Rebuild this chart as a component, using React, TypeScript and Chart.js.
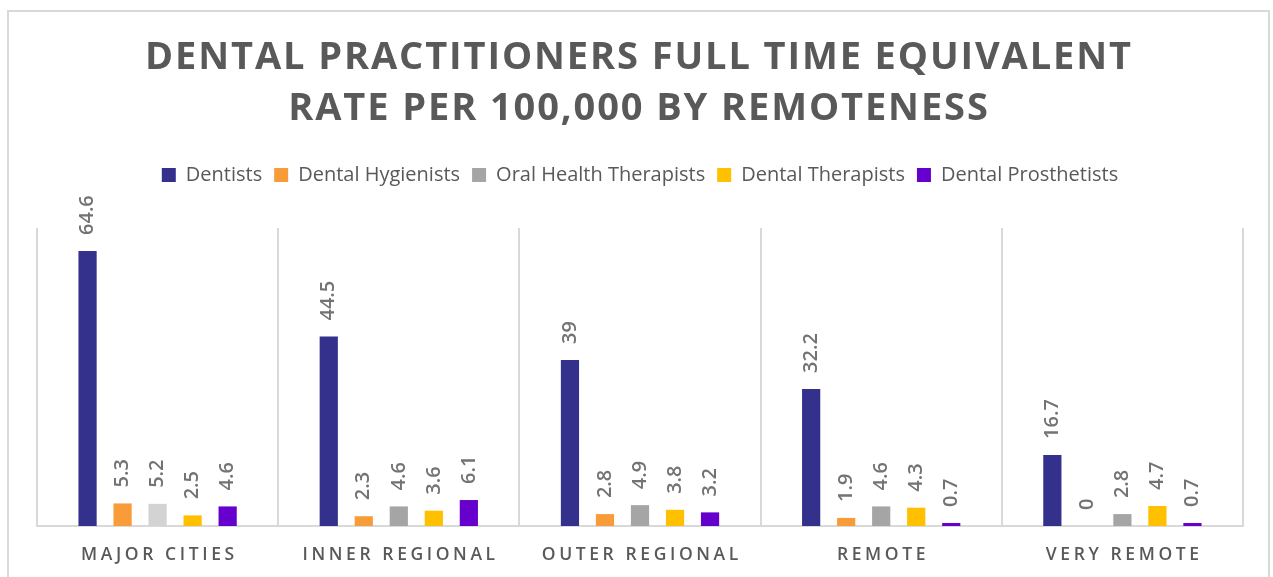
import React, { useEffect, useRef } from "react";
import { Chart, registerables } from "chart.js";

Chart.register(...registerables);

const titleLines = ["DENTAL PRACTITIONERS FULL TIME EQUIVALENT", "RATE PER 100,000 BY REMOTENESS"];
const categories = ["MAJOR CITIES", "INNER REGIONAL", "OUTER REGIONAL", "REMOTE", "VERY REMOTE"];
const seriesNames = ["Dentists", "Dental Hygienists", "Oral Health Therapists", "Dental Therapists", "Dental Prosthetists"];
const dentists = [64.6, 44.5, 39, 32.2, 16.7];
const hygienists = [5.3, 2.3, 2.8, 1.9, 0];
const oralHealth = [5.2, 4.6, 4.9, 4.6, 2.8];
const therapists = [2.5, 3.6, 3.8, 4.3, 4.7];
const prosthetists = [4.6, 6.1, 3.2, 0.7, 0.7];
const seriesColors = ["#33318C", "#F89C3A", "#A5A5A5", "#FFC000", "#6600CC"];

const TEXT_GRAY = "#595959";
const FONT = '"Open Sans", "DejaVu Sans", sans-serif';

const customText = {
  id: "customText",
  afterDatasetsDraw(chart: any) {
    const ctx = chart.ctx;
    ctx.save();
    ctx.fillStyle = "#737373";
    ctx.font = `600 20px ${FONT}`;
    ctx.textAlign = "left";
    ctx.textBaseline = "middle";
    chart.data.datasets.forEach((ds: any, di: number) => {
      const meta = chart.getDatasetMeta(di);
      meta.data.forEach((el: any, i: number) => {
        const v = ds.data[i];
        ctx.save();
        ctx.translate(el.x, el.y - 16);
        ctx.rotate(-Math.PI / 2);
        ctx.fillText(String(v), 0, 0);
        ctx.restore();
      });
    });
    ctx.restore();
  },
  afterDraw(chart: any) {
    const ctx = chart.ctx;
    ctx.save();
    ctx.fillStyle = TEXT_GRAY;
    ctx.textAlign = "center";
    ctx.textBaseline = "middle";
    ctx.font = `bold 38px ${FONT}`;
    (ctx as any).letterSpacing = "1.9px";
    ctx.fillText(titleLines[0], 639, 58);
    ctx.fillText(titleLines[1], 639, 109);
    ctx.font = `600 17.5px ${FONT}`;
    (ctx as any).letterSpacing = "3.6px";
    const xs = chart.scales.x;
    categories.forEach((c, i) => {
      ctx.fillText(c, xs.getPixelForTick(i) + 1.8, 555);
    });
    ctx.restore();
  },
};

export default function App() {
  const ref = useRef<HTMLCanvasElement | null>(null);
  useEffect(() => {
    if (!ref.current) return;
    const data = [dentists, hygienists, oralHealth, therapists, prosthetists];
    const chart = new Chart(ref.current, {
      type: "bar",
      data: {
        labels: categories,
        datasets: seriesNames.map((name, si) => ({
          label: name,
          data: data[si],
          backgroundColor:
            si === 2
              ? data[si].map((_, i) => (i === 0 ? "#D3D3D3" : seriesColors[si]))
              : seriesColors[si],
          borderWidth: 0,
          categoryPercentage: 0.726,
          barPercentage: 0.52,
        })),
      },
      options: {
        responsive: false,
        devicePixelRatio: 1,
        animation: false,
        layout: { padding: { top: 153, left: 37, right: 30, bottom: 0 } },
        plugins: {
          title: { display: false },
          subtitle: {
            display: true,
            text: " ",
            weight: 500,
            position: "top",
            font: { size: 10 },
            color: "rgba(0,0,0,0)",
            padding: { top: 0, bottom: 21 },
          } as any,
          legend: {
            display: true,
            position: "top",
            labels: {
              boxWidth: 14,
              boxHeight: 14,
              padding: 12,
              color: TEXT_GRAY,
              font: { family: FONT, size: 20 },
              generateLabels: () =>
                seriesNames.map((n, i) => ({
                  text: n,
                  fillStyle: seriesColors[i],
                  strokeStyle: seriesColors[i],
                  lineWidth: 0,
                  hidden: false,
                  datasetIndex: i,
                  fontColor: TEXT_GRAY,
                })),
            },
          },
          tooltip: { enabled: false },
        },
        scales: {
          x: {
            grid: {
              display: true,
              offset: true,
              color: "#D9D9D9",
              lineWidth: 2,
              drawTicks: false,
            },
            border: { display: true, color: "#D9D9D9", width: 2 },
            ticks: { color: "rgba(0,0,0,0)", font: { size: 17 } },
            afterFit: (s: any) => {
              s.height = 51;
            },
          },
          y: { display: false, min: 0, max: 70 },
        },
      },
      plugins: [customText],
    });
    return () => chart.destroy();
  }, []);
  return (
    <div style={{ position: "fixed", left: 0, top: 0, width: 1273, height: 577, background: "#fff", overflow: "hidden" }}>
      <div
        style={{
          position: "absolute",
          left: 7,
          top: 10,
          width: 1263,
          height: 620,
          border: "2px solid #D9D9D9",
          boxSizing: "border-box",
        }}
      />
      <canvas ref={ref} width={1273} height={577} style={{ position: "absolute", left: 0, top: 0, display: "block" }} />
    </div>
  );
}
